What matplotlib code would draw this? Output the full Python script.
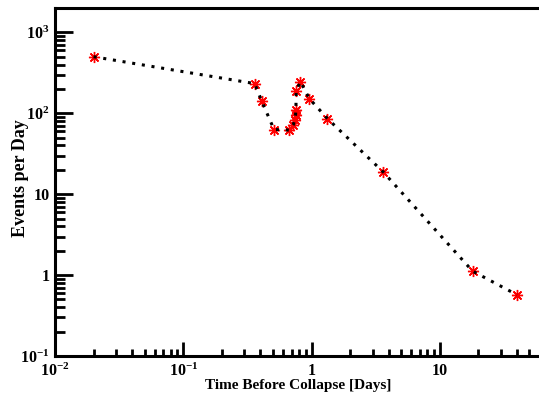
import matplotlib
matplotlib.use("Agg")
import matplotlib.pyplot as plt
from matplotlib.ticker import FixedLocator, FixedFormatter, LogLocator, NullFormatter

plt.rcParams['font.family'] = ['Liberation Serif', 'DejaVu Serif']
plt.rcParams['font.weight'] = 'bold'
plt.rcParams['mathtext.fontset'] = 'custom'
plt.rcParams['mathtext.rm'] = 'Liberation Serif:bold'
plt.rcParams['mathtext.bf'] = 'Liberation Serif:bold'
plt.rcParams['mathtext.it'] = 'Liberation Serif:bold'

# time before collapse [days] and event rate [events per day]
days = [0.02, 0.36, 0.41, 0.51, 0.67, 0.72, 0.74, 0.75, 0.755, 0.76, 0.82, 0.96, 1.33, 3.6, 18.0, 40.0]
rate = [500, 233, 140, 63, 62, 72, 83, 94, 111, 191, 247, 152, 86, 19, 1.12, 0.57]

xticks = [0.01, 0.1, 1, 10]
xlabels = [r'$10^{-2}$', r'$10^{-1}$', '1', '10']
yticks = [0.1, 1, 10, 100, 1000]
ylabels = [r'$10^{-1}$', '1', '10', r'$10^{2}$', r'$10^{3}$']

fig = plt.figure(figsize=(5.39, 3.95), dpi=100)
ax = fig.add_axes([0.102, 0.0987, 0.952, 0.881])

ax.plot(days, rate, linestyle='none', marker=(8, 2, 0), markersize=8,
        markeredgewidth=1.0, color='red', zorder=3)
ax.plot(days, rate, color='black', linewidth=2.2, linestyle=(0, (1, 2.2)),
        dash_capstyle='butt', zorder=4)

ax.set_xscale('log')
ax.set_yscale('log')
ax.set_xlim(0.01, 100)
ax.set_ylim(0.1, 2000)

ax.xaxis.set_major_locator(FixedLocator(xticks))
ax.xaxis.set_major_formatter(FixedFormatter(xlabels))
ax.yaxis.set_major_locator(FixedLocator(yticks))
ax.yaxis.set_major_formatter(FixedFormatter(ylabels))
ax.xaxis.set_minor_locator(LogLocator(base=10, subs=range(2, 10), numticks=20))
ax.yaxis.set_minor_locator(LogLocator(base=10, subs=range(2, 10), numticks=20))
ax.xaxis.set_minor_formatter(NullFormatter())
ax.yaxis.set_minor_formatter(NullFormatter())

ax.tick_params(axis='both', which='both', direction='in', width=2,
               labelsize=11.5, top=False, right=False)
ax.tick_params(axis='y', which='major', length=13, pad=4)
ax.tick_params(axis='y', which='minor', length=7)
ax.tick_params(axis='x', which='major', length=10, pad=5)
ax.tick_params(axis='x', which='minor', length=5)

for sp in ax.spines.values():
    sp.set_linewidth(2.2)

ax.set_xlabel('Time Before Collapse [Days]', fontsize=11, fontweight='bold')
ax.set_ylabel('Events per Day', fontsize=13, fontweight='bold')
ax.xaxis.set_label_coords((298 - 55) / 513, -0.065)
ax.yaxis.set_label_coords(-0.05, 0.51)

fig.savefig('out.png', dpi=100)
